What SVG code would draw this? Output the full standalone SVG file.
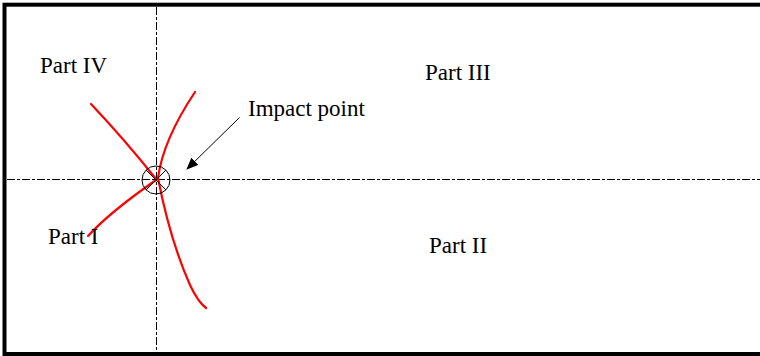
<svg xmlns="http://www.w3.org/2000/svg" width="760" height="356" viewBox="0 0 760 356">
  <style>
    .axis { stroke: #000; stroke-width: 1; stroke-dasharray: 8 2 3 2; fill: none; }
    .crack { stroke: #ff0000; stroke-width: 2.2; fill: none; stroke-linecap: round; }
    .label { font-family: "Liberation Serif", "Times New Roman", serif; font-size: 23px; fill: #000; }
    .thin { stroke: #000; stroke-width: 1; fill: none; }
  </style>
  <defs>
    <marker id="arrow" markerWidth="12" markerHeight="10" refX="11" refY="5" orient="auto" markerUnits="userSpaceOnUse">
      <path d="M0,0 L12,5 L0,10 Z" fill="#000"/>
    </marker>
  </defs>

  <rect width="760" height="356" fill="#fff"/>

  <!-- outer frame -->
  <rect id="frame" x="4.5" y="4.7" width="770" height="349.3" fill="none" stroke="#000" stroke-width="4"/>

  <!-- centre lines through the impact point -->
  <g id="axes">
    <line class="axis" x1="156.5" y1="7" x2="156.5" y2="352"/>
    <line class="axis" x1="7" y1="179.5" x2="760" y2="179.5"/>
  </g>

  <!-- crack paths -->
  <g id="cracks">
    <path class="crack" d="M91,104 Q125,140 156,179"/>
    <path class="crack" d="M195,92 Q163,140 158,178 Q170,240 190,285 Q198,302 206,308"/>
    <path class="crack" d="M88,236 Q110,212 156,180"/>
  </g>

  <!-- impact point marker -->
  <g id="impact-point">
    <circle class="thin" cx="156" cy="180" r="14"/>
    <line class="thin" x1="146.1" y1="170.1" x2="165.9" y2="189.9"/>
    <line class="thin" x1="165.9" y1="170.1" x2="146.1" y2="189.9"/>
  </g>

  <g id="connectors">
    <line class="thin" x1="239.5" y1="117.5" x2="187" y2="169" marker-end="url(#arrow)"/>
  </g>

  <g id="labels">
    <text class="label" x="40" y="72.7">Part IV</text>
    <text class="label" x="425" y="80">Part III</text>
    <text class="label" x="248" y="116">Impact point</text>
    <text class="label" x="48" y="244.3">Part I</text>
    <text class="label" x="429" y="252.7">Part II</text>
  </g>
</svg>
